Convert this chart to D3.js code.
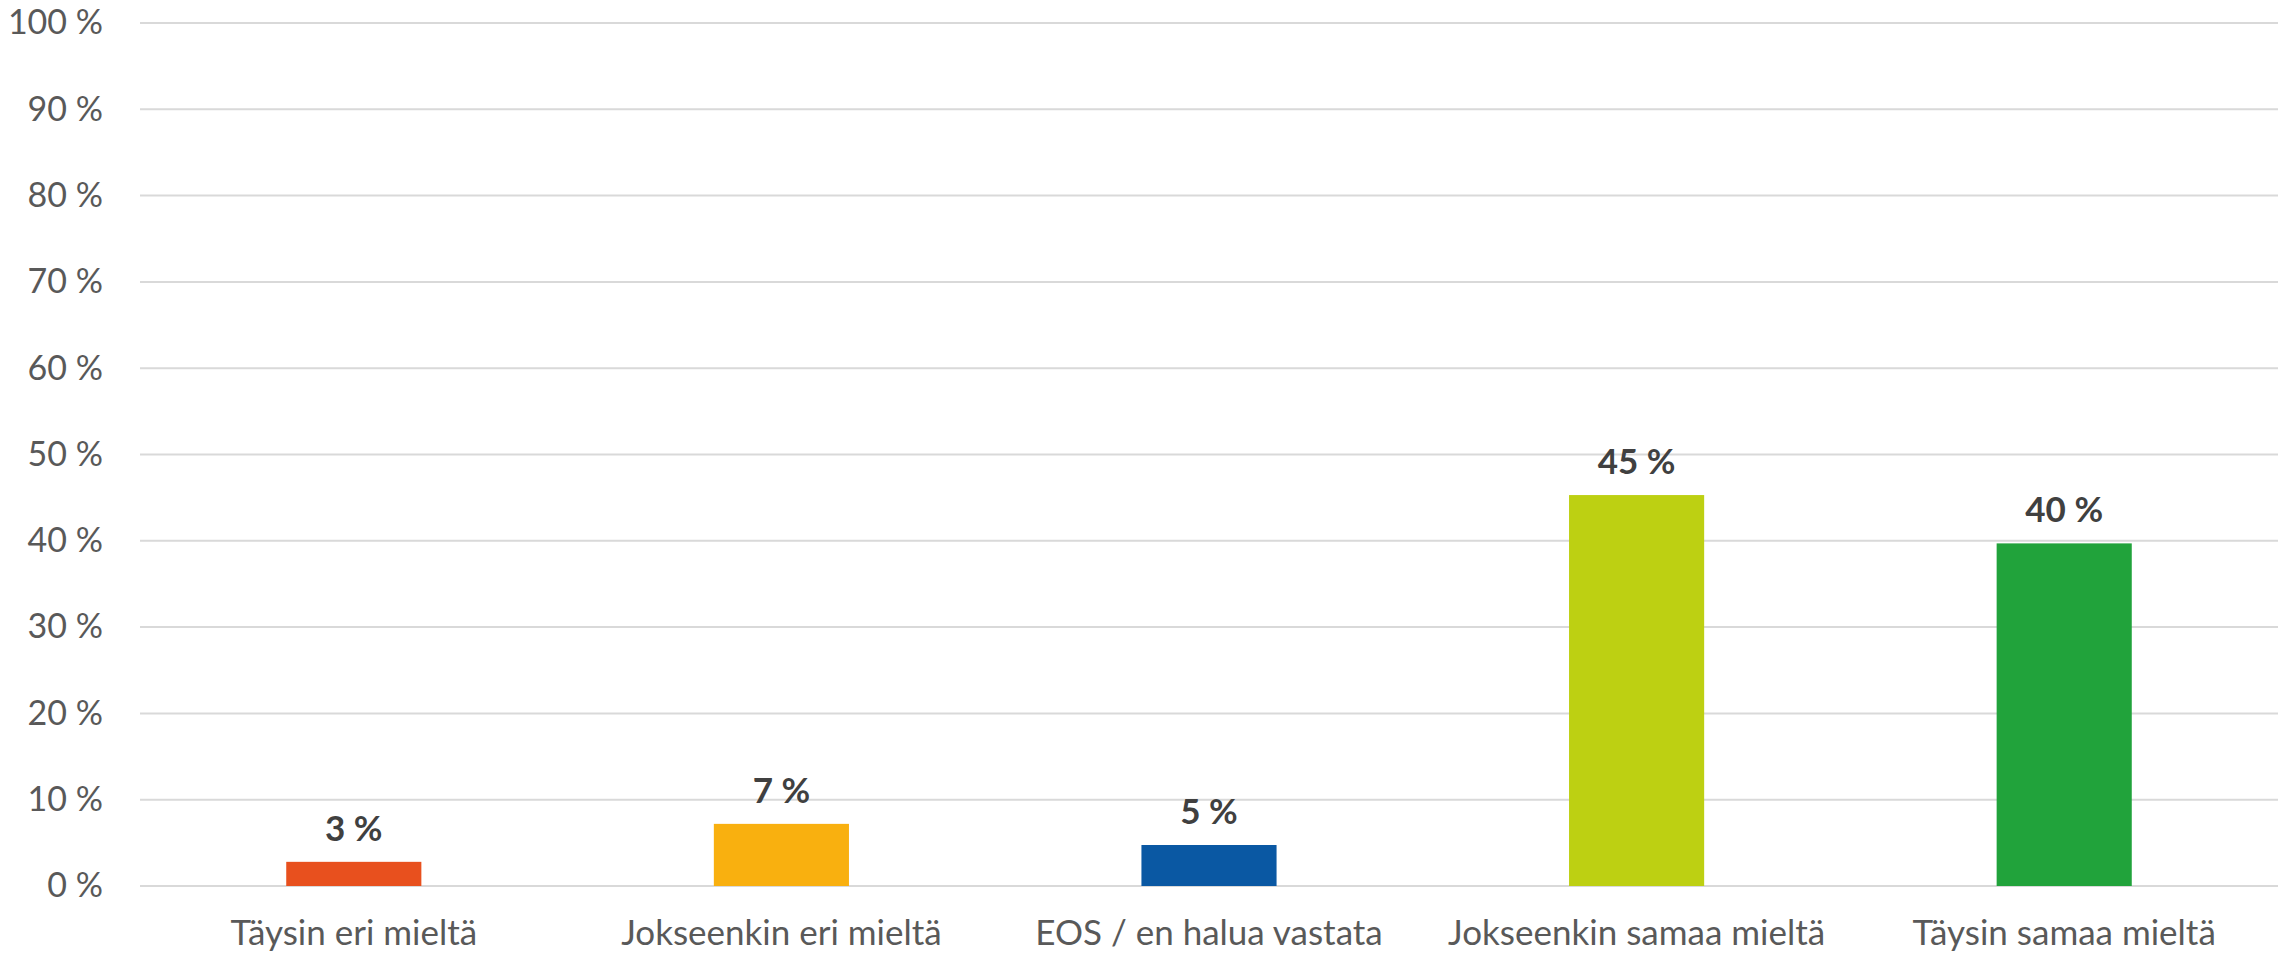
<!DOCTYPE html>
<html><head><meta charset="utf-8">
<script src="https://cdn.jsdelivr.net/npm/d3@7"></script>
<style>html,body{margin:0;padding:0;background:#fff;}</style>
</head><body>
<svg id="chart" width="2290" height="953"></svg>
<script>
const categories = ["Täysin eri mieltä", "Jokseenkin eri mieltä", "EOS / en halua vastata", "Jokseenkin samaa mieltä", "Täysin samaa mieltä"];
const values = [2.8, 7.2, 4.75, 45.3, 39.7];
const valueLabels = ["3 %", "7 %", "5 %", "45 %", "40 %"];
const colors = ["#E8501E", "#F9B00F", "#0A58A3", "#BDD012", "#21A33B"];
const yTicks = [0, 10, 20, 30, 40, 50, 60, 70, 80, 90, 100];

(function () {
const FONT = "Lato, 'Open Sans', sans-serif";
const svg = d3.select("#chart");
const mLeft = 140, mRight = 2278, mTop = 23, mBottom = 886;

const x = d3.scaleBand().domain(categories).range([mLeft, mRight]).padding(0);
const y = d3.scaleLinear().domain([0, 100]).range([mBottom, mTop]);
const barW = x.bandwidth() * 0.316;

// gridlines
svg.append("g").selectAll("line").data(yTicks).join("line")
  .attr("x1", mLeft).attr("x2", mRight)
  .attr("y1", d => y(d)).attr("y2", d => y(d))
  .attr("stroke", "#D9D9D9").attr("stroke-width", 2);

// y axis labels
const yAxis = d3.axisLeft(y).tickValues(yTicks).tickFormat(d => d + " %").tickSize(0).tickPadding(37);
const ya = svg.append("g").attr("transform", `translate(${mLeft},0)`).call(yAxis);
ya.select(".domain").remove();
ya.selectAll("text").attr("font-family", FONT).attr("font-size", 34).attr("fill", "#595959");

// bars
svg.append("g").selectAll("rect").data(values).join("rect")
  .attr("x", (d, i) => x(categories[i]) + (x.bandwidth() - barW) / 2)
  .attr("width", barW)
  .attr("y", d => y(d))
  .attr("height", d => y(0) - y(d))
  .attr("fill", (d, i) => colors[i]);

// value labels
svg.append("g").selectAll("text").data(values).join("text")
  .attr("x", (d, i) => x(categories[i]) + x.bandwidth() / 2)
  .attr("y", d => y(d) - 21)
  .attr("text-anchor", "middle")
  .attr("font-family", FONT).attr("font-weight", "bold").attr("font-size", 35)
  .attr("fill", "#404040")
  .text((d, i) => valueLabels[i]);

// x axis labels
const xAxis = d3.axisBottom(x).tickSize(0).tickPadding(34);
const xa = svg.append("g").attr("transform", `translate(0,${mBottom})`).call(xAxis);
xa.select(".domain").remove();
xa.selectAll("text").attr("font-family", FONT).attr("font-size", 35).attr("fill", "#595959");
})();
</script>
</body></html>
